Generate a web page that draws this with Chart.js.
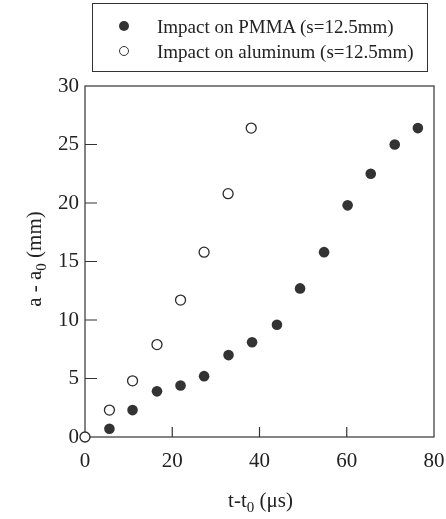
<!DOCTYPE html>
<html>
<head>
<meta charset="utf-8">
<script src="https://cdn.jsdelivr.net/npm/chart.js@4"></script>
<style>
	html, body { margin: 0; padding: 0; background: #fff; }
	.wrap { position: relative; width: 446px; height: 519px; }
	canvas { position: absolute; left: 0; top: 0; }
	.legend {
		position: absolute; left: 92px; top: 3px; width: 336px; height: 69px;
		border: 1px solid #333; box-sizing: border-box;
		font-family: "Liberation Serif", "Times New Roman", serif; font-size: 19px; color: #222;
	}
	.mark {
		position: absolute; left: 26px; width: 10px; height: 10px; border-radius: 50%; box-sizing: border-box;
	}
	.txt { position: absolute; left: 64px; line-height: 19px; white-space: nowrap; }
	.filled { background: #333; }
	.open { background: #fff; border: 1.3px solid #333; }
</style>
</head>
<body>
<div class="wrap">
	<canvas id="myChart" width="446" height="519"></canvas>
	<div class="legend">
		<span class="mark filled" style="top:17px"></span><span class="txt" style="top:13px">Impact on PMMA (s=12.5mm)</span>
		<span class="mark open" style="top:42px"></span><span class="txt" style="top:38px">Impact on aluminum (s=12.5mm)</span>
	</div>
</div>
<script>
// t - t0 (us) and a - a0 (mm)
const pmmaT = [5.6, 10.9, 16.5, 21.9, 27.3, 32.9, 38.3, 44.0, 49.3, 54.8, 60.2, 65.5, 71.0, 76.3];
const pmmaA = [0.7, 2.3, 3.9, 4.4, 5.2, 7.0, 8.1, 9.6, 12.7, 15.8, 19.8, 22.5, 25.0, 26.4];
const aluT = [0, 5.6, 10.9, 16.5, 21.9, 27.3, 32.8, 38.1];
const aluA = [0, 2.3, 4.8, 7.9, 11.7, 15.8, 20.8, 26.4];
const xTicks = [0, 20, 40, 60, 80];
const yTicks = [0, 5, 10, 15, 20, 25, 30];

const serif = '"Liberation Serif", "Times New Roman", serif';
const ink = '#222';

class Front {
	constructor (){
		const _ = this;
		_.init();
	}

	toPoints(xs, ys){
		return xs.map((x, i) => ({ x: x, y: ys[i] }));
	}

	// text with a subscript 0, centred on x
	subText(c, parts, cx, y){
		let w = 0;
		parts.forEach(p => { c.font = p[1]; w += c.measureText(p[0]).width; });
		let x = cx - w / 2;
		parts.forEach(p => {
			c.font = p[1];
			c.fillText(p[0], x, y + p[2]);
			x += c.measureText(p[0]).width;
		});
	}

	// frame, inward ticks and the axis titles
	framePlugin(){
		const _ = this;
		return {
			id: 'frame',
			beforeDatasetsDraw(chart){
				const c = chart.ctx;
				const a = chart.chartArea;
				const xs = chart.scales.x, ys = chart.scales.y;
				c.save();
				c.strokeStyle = '#333';
				c.lineWidth = 1.2;
				c.strokeRect(a.left, a.top, a.right - a.left, a.bottom - a.top);
				c.beginPath();
				xTicks.slice(1, -1).forEach(v => {
					let px = xs.getPixelForValue(v);
					c.moveTo(px, a.bottom);
					c.lineTo(px, a.bottom - 10);
				});
				yTicks.slice(1, -1).forEach(v => {
					let py = ys.getPixelForValue(v);
					c.moveTo(a.left, py);
					c.lineTo(a.left + 12, py);
				});
				c.stroke();
				c.restore();
			},
			afterDraw(chart){
				const c = chart.ctx;
				const a = chart.chartArea;
				let big = '21px ' + serif, small = '15px ' + serif;
				c.save();
				c.fillStyle = ink;
				c.textBaseline = 'alphabetic';
				_.subText(c, [['t-t', big, 0], ['0', small, 5], [' (\u03bcs)', big, 0]], (a.left + a.right) / 2 + 1, 507);
				c.translate(41, 259);
				c.rotate(-Math.PI / 2);
				_.subText(c, [['a - a', big, 0], ['0', small, 5], [' (mm)', big, 0]], 0, 0);
				c.restore();
			}
		};
	}

	start(){
		const _ = this;
		const ctx = document.getElementById('myChart');
		let data = {
			datasets: [{
				label: 'Impact on PMMA (s=12.5mm)',
				data: _.toPoints(pmmaT, pmmaA),
				backgroundColor: '#333',
				borderColor: '#333',
				borderWidth: 0,
				pointRadius: 5.3,
				clip: false
			}, {
				label: 'Impact on aluminum (s=12.5mm)',
				data: _.toPoints(aluT, aluA),
				backgroundColor: '#fff',
				borderColor: '#2a2a2a',
				borderWidth: 1.3,
				pointRadius: 5,
				clip: false
			}]
		};
		const tickFont = { family: serif, size: 21 };
		new Chart(ctx, {
			type: 'scatter',
			data: data,
			plugins: [_.framePlugin()],
			options: {
				responsive: false,
				animation: false,
				events: [],
				layout: { autoPadding: false, padding: { top: 86, right: 12, left: 0, bottom: 0 } },
				plugins: { legend: { display: false }, tooltip: { enabled: false } },
				scales: {
					x: {
						type: 'linear', min: 0, max: 80,
						grid: { display: false, drawTicks: false },
						border: { display: false },
						// drop the margin the scale keeps for the "80" label
						afterFit(scale){ scale.height = 82; scale.paddingLeft = 0; scale.paddingRight = 0; },
						afterBuildTicks(scale){ scale.ticks = xTicks.map(v => ({ value: v })); },
						ticks: { color: ink, font: tickFont, padding: 12 }
					},
					y: {
						type: 'linear', min: 0, max: 30,
						grid: { display: false, drawTicks: false },
						border: { display: false },
						afterFit(scale){ scale.width = 85; },
						afterBuildTicks(scale){ scale.ticks = yTicks.map(v => ({ value: v })); },
						ticks: { color: ink, font: tickFont, padding: 6 }
					}
				}
			}
		});
	}

	init(){
		const _ = this;
		_.start();
	}
}
new Front();
</script>
</body>
</html>
